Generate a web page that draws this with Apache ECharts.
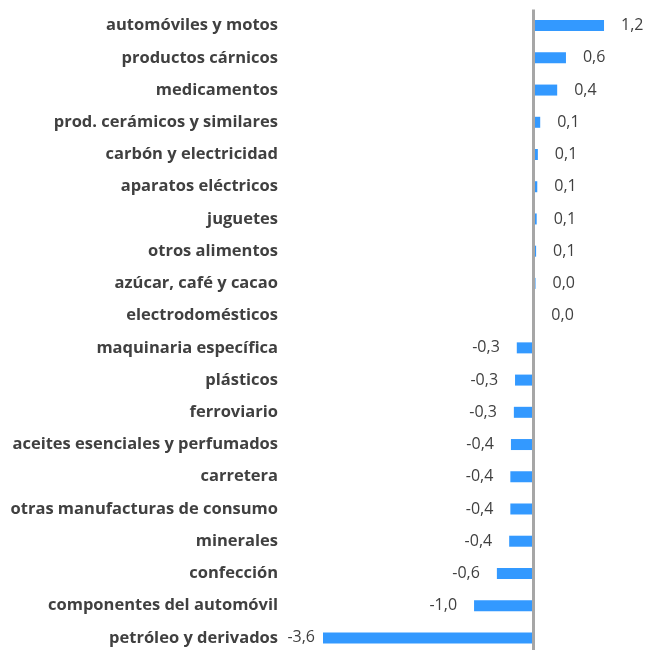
<!DOCTYPE html>
<html>
<head>
<meta charset="utf-8">
<script src="https://cdn.jsdelivr.net/npm/echarts@6/dist/echarts.min.js"></script>
<style>
  html, body { margin: 0; padding: 0; background: #fff; overflow: hidden; }
  #chart { width: 649px; height: 654px; }
</style>
</head>
<body>
<div id="chart"></div>
<script>
const categories = [
    'automóviles y motos', 'productos cárnicos', 'medicamentos',
    'prod. cerámicos y similares', 'carbón y electricidad', 'aparatos eléctricos',
    'juguetes', 'otros alimentos', 'azúcar, café y cacao', 'electrodomésticos',
    'maquinaria específica', 'plásticos', 'ferroviario',
    'aceites esenciales y perfumados', 'carretera', 'otras manufacturas de consumo',
    'minerales', 'confección', 'componentes del automóvil', 'petróleo y derivados'
];
const values = [
    1.21, 0.56, 0.41, 0.12, 0.08, 0.07, 0.06, 0.05, 0.04, 0.02,
    -0.28, -0.31, -0.33, -0.38, -0.39, -0.39, -0.41, -0.62, -1.01, -3.59
];
const valueLabels = [
    '1,2', '0,6', '0,4', '0,1', '0,1', '0,1', '0,1', '0,1', '0,0', '0,0',
    '-0,3', '-0,3', '-0,3', '-0,4', '-0,4', '-0,4', '-0,4', '-0,6', '-1,0', '-3,6'
];

const chart = echarts.init(document.getElementById('chart'));
const FONT = '"Open Sans", sans-serif';

// el contenedor es 4px más alto que la ventana: la última fila queda algo recortada como en el original
chart.setOption({
    animation: false,
    grid: {left: 299, right: 28, top: 9.5, bottom: 0},
    xAxis: {
        type: 'value', min: -4, max: 1.5,
        axisLine: {show: false}, axisTick: {show: false},
        axisLabel: {show: false}, splitLine: {show: false}
    },
    yAxis: {
        type: 'category', data: categories, inverse: true,
        axisLine: {show: false}, axisTick: {show: false},
        axisLabel: {
            margin: 21, color: '#404040', fontFamily: FONT,
            fontSize: 16.5, fontWeight: 'bold'
        }
    },
    series: [{
        type: 'bar', barWidth: 11,
        itemStyle: {color: '#3399FF'},
        data: values.map((v, i) => ({
            value: v,
            label: {
                position: v < 0 ? 'left' : 'right',
                distance: i === values.length - 1 ? 8 : 17
            }
        })),
        label: {
            show: true, color: '#404040', fontFamily: FONT, fontSize: 16,
            formatter: p => valueLabels[p.dataIndex]
        },
        markLine: {
            silent: true, symbol: 'none', label: {show: false},
            lineStyle: {color: '#A6A6A6', width: 3, type: 'solid'},
            data: [{xAxis: 0}]
        }
    }]
});
</script>
</body>
</html>
